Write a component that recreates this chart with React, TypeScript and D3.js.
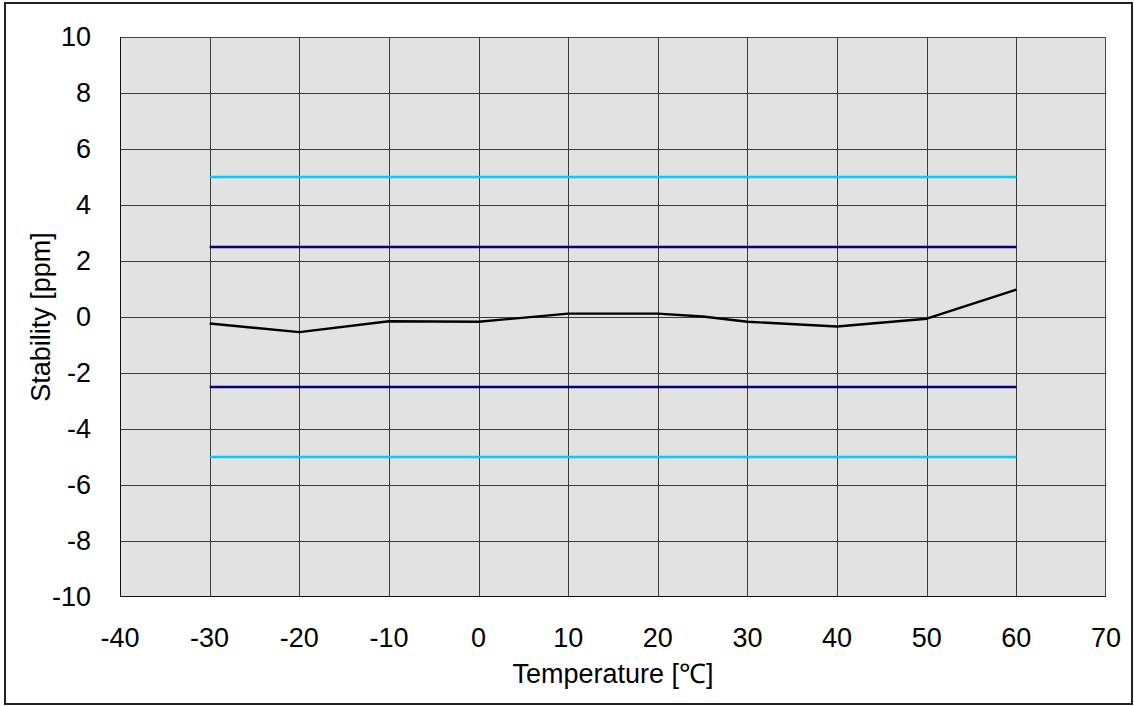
import React from "react";
import * as d3 from "d3";

const temps = [-30, -20, -10, 0, 10, 20, 25, 30, 40, 50, 60];
const stability = [-0.23, -0.54, -0.15, -0.17, 0.12, 0.12, 0.02, -0.17, -0.34, -0.06, 0.98];
const outerLimit = [5, -5];
const innerLimit = [2.5, -2.5];
const limitRange = [-30, 60];
const xTicks = [-40, -30, -20, -10, 0, 10, 20, 30, 40, 50, 60, 70];
const yTicks = [-10, -8, -6, -4, -2, 0, 2, 4, 6, 8, 10];

const W = 1134;
const H = 706;
const M = { left: 120, top: 37, right: 1106, bottom: 597 };

export default function App() {
  const x = d3.scaleLinear().domain([-40, 70]).range([M.left, M.right]);
  const y = d3.scaleLinear().domain([-10, 10]).range([M.bottom, M.top]);
  const line = d3
    .line<number>()
    .x((_, i) => x(temps[i]))
    .y((d) => y(d));
  const font = "'Liberation Sans', Arial, sans-serif";
  const fs = 27;
  const px = (v: number) => Math.round(v) + 0.5;
  return (
    <svg
      width={W}
      height={H}
      style={{ position: "absolute", left: 0, top: 0, background: "#fff" }}
    >
      <rect x={5} y={3} width={1127} height={701} fill="#fff" stroke="#222" strokeWidth={2} />
      <rect
        x={M.left}
        y={M.top}
        width={M.right - M.left}
        height={M.bottom - M.top}
        fill="#e2e2e2"
      />
      {xTicks.slice(1, -1).map((t) => (
        <line key={"vx" + t} x1={px(x(t))} x2={px(x(t))} y1={M.top} y2={M.bottom} stroke="#3a3a3a" strokeWidth={1} />
      ))}
      {yTicks.slice(1, -1).map((t) => (
        <line key={"hy" + t} x1={M.left} x2={M.right} y1={px(y(t))} y2={px(y(t))} stroke="#3a3a3a" strokeWidth={1} />
      ))}
      <rect
        x={M.left + 0.5}
        y={M.top + 0.5}
        width={M.right - M.left - 1}
        height={M.bottom - M.top - 1}
        fill="none"
        stroke="#444"
        strokeWidth={1}
      />
      <line x1={M.left + 0.5} x2={M.left + 0.5} y1={M.top} y2={M.bottom} stroke="#111" />
      <line x1={M.left} x2={M.right} y1={M.bottom - 0.5} y2={M.bottom - 0.5} stroke="#111" />
      {outerLimit.map((v) => (
        <line key={"o" + v} x1={x(limitRange[0])} x2={x(limitRange[1])} y1={y(v)} y2={y(v)} stroke="#00ccff" strokeWidth={2.4} />
      ))}
      {innerLimit.map((v) => (
        <line key={"i" + v} x1={x(limitRange[0])} x2={x(limitRange[1])} y1={y(v)} y2={y(v)} stroke="#000080" strokeWidth={2.4} />
      ))}
      <path d={line(stability) || ""} fill="none" stroke="#000" strokeWidth={2.4} strokeLinejoin="round" />
      {yTicks.map((t) => (
        <text key={"yl" + t} x={91} y={y(t)} dy="0.35em" textAnchor="end" fontFamily={font} fontSize={fs} fill="#000">
          {t}
        </text>
      ))}
      {xTicks.map((t) => (
        <text key={"xl" + t} x={x(t)} y={647} textAnchor="middle" fontFamily={font} fontSize={fs} fill="#000">
          {t}
        </text>
      ))}
      <text x={(M.left + M.right) / 2} y={683} textAnchor="middle" fontFamily={font} fontSize={fs} fill="#000">
        Temperature [℃]
      </text>
      <text
        transform={`translate(50, ${(M.top + M.bottom) / 2}) rotate(-90)`}
        textAnchor="middle"
        fontFamily={font}
        fontSize={fs}
        fill="#000"
      >
        Stability [ppm]
      </text>
    </svg>
  );
}
